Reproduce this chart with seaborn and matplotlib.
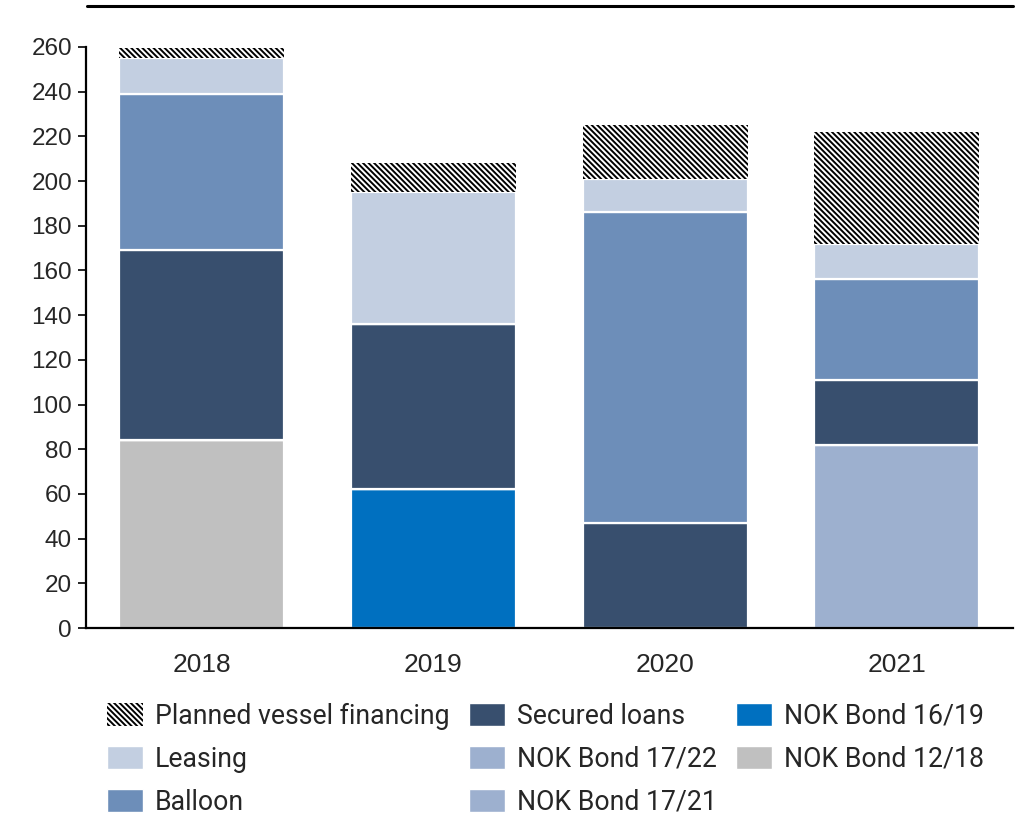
import matplotlib
matplotlib.use("Agg")
import matplotlib.pyplot as plt
import seaborn as sns
import numpy as np
from matplotlib.patches import Patch
from matplotlib.lines import Line2D

# Debt maturity profile (USD m) by year
years = ["2018", "2019", "2020", "2021"]

nok_bond_12_18 = [84, 0, 0, 0]
nok_bond_16_19 = [0, 62, 0, 0]
nok_bond_17_21 = [0, 0, 0, 82]
nok_bond_17_22 = [0, 0, 0, 0]
secured_loans = [85, 74, 47, 29]
balloon = [70, 0, 139, 45]
leasing = [16, 59, 15, 16]
planned_vessel_financing = [4.5, 13, 24, 50]

y_ticks = list(range(0, 261, 20))

# Stacking order, bottom to top
layers = [
    ("NOK Bond 12/18", nok_bond_12_18, "#c0c0c0"),
    ("NOK Bond 16/19", nok_bond_16_19, "#0070c0"),
    ("NOK Bond 17/21", nok_bond_17_21, "#9db0cf"),
    ("NOK Bond 17/22", nok_bond_17_22, "#9db0cf"),
    ("Secured loans", secured_loans, "#384f6e"),
    ("Balloon", balloon, "#6d8eb9"),
    ("Leasing", leasing, "#c3cfe1"),
]

HATCH = "\\" * 6

sns.set_theme(style="white")
plt.rcParams["font.family"] = ["Liberation Sans", "DejaVu Sans"]
plt.rcParams["hatch.linewidth"] = 1.4

fig = plt.figure(figsize=(10.25, 8.17), dpi=100)
ax = fig.add_axes([0.0839, 0.2313, 0.9040, 0.7112])

bar_w = 0.713
bottom = np.zeros(len(years))
for name, vals, col in layers:
    vals = np.array(vals, dtype=float)
    sns.barplot(x=years, y=vals, bottom=bottom, color=col, saturation=1,
                width=bar_w, edgecolor="white", linewidth=1.6, ax=ax)
    bottom = bottom + vals

# Hatched planned financing on top
sns.barplot(x=years, y=planned_vessel_financing, bottom=bottom, color="white",
            saturation=1, width=bar_w, edgecolor="black", linewidth=0,
            hatch=HATCH, ax=ax)

ax.set_xlim(-0.5, 3.5)
ax.set_ylim(0, 260)
ax.set_yticks(y_ticks)
ax.set_xlabel("")
ax.set_ylabel("")
for s in ["top", "right"]:
    ax.spines[s].set_visible(False)
for s in ["left", "bottom"]:
    ax.spines[s].set_color("black")
    ax.spines[s].set_linewidth(1.6)
ax.tick_params(axis="y", which="major", direction="out", length=6, width=1.2,
               color="black", left=True, labelsize=17.5, pad=4)
ax.tick_params(axis="x", length=0, labelsize=19, pad=18)

# Rule across the top of the figure
fig.add_artist(Line2D([0.085, 0.988], [0.993, 0.993], color="black", lw=2.2,
                      transform=fig.transFigure))

legend_items = [
    ("Planned vessel financing", dict(facecolor="white", edgecolor="black", hatch=HATCH, linewidth=0)),
    ("Leasing", dict(facecolor="#c3cfe1")),
    ("Balloon", dict(facecolor="#6d8eb9")),
    ("Secured loans", dict(facecolor="#384f6e")),
    ("NOK Bond 17/22", dict(facecolor="#9db0cf")),
    ("NOK Bond 17/21", dict(facecolor="#9db0cf")),
    ("NOK Bond 16/19", dict(facecolor="#0070c0")),
    ("NOK Bond 12/18", dict(facecolor="#c0c0c0")),
]
handles = [Patch(label=lab, **kw) for lab, kw in legend_items]
leg = fig.legend(handles=handles, ncol=3, loc="upper left",
                 bbox_to_anchor=(0.1044, 0.140), frameon=False,
                 prop={"family": ["Roboto", "DejaVu Sans"], "size": 19.2},
                 handlelength=1.35, handleheight=0.97, handletextpad=0.45,
                 labelspacing=0.6, columnspacing=0.72, borderpad=0,
                 borderaxespad=0)

fig.savefig("out.png", dpi=100, facecolor="white")
